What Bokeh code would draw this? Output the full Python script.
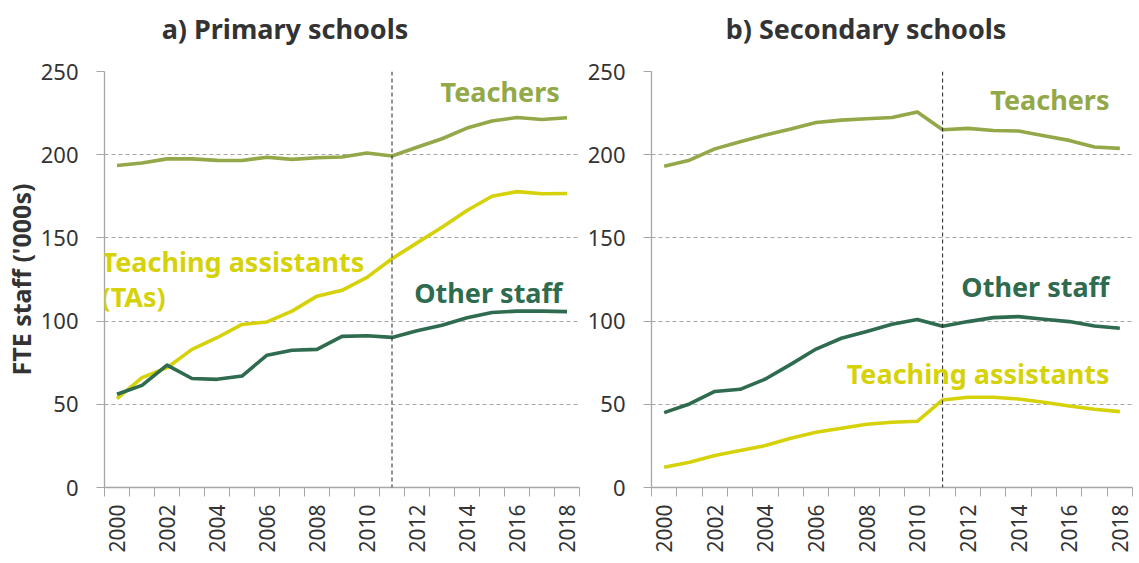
import math
from bokeh.plotting import figure
from bokeh.layouts import row, column
from bokeh.models import Label, FixedTicker, Range1d, ColumnDataSource, Span
from bokeh.embed import file_html
from bokeh.resources import INLINE

# ---------------- data ----------------
years = list(range(2000, 2019))
primary_teachers = [193.5, 195.0, 197.5, 197.5, 196.6, 196.5, 198.5, 197.2, 198.2, 198.6,
                    201.0, 199.2, 204.5, 209.6, 216.0, 220.2, 222.4, 221.2, 222.2]
primary_tas = [53.4, 66.0, 72.0, 83.0, 90.0, 98.0, 99.5, 106.0, 115.0, 118.5,
               126.3, 137.5, 147.0, 156.4, 166.5, 175.0, 177.8, 176.5, 176.7]
primary_other = [56.0, 61.4, 73.5, 65.5, 65.0, 67.0, 79.5, 82.5, 83.0, 90.8,
                 91.2, 90.2, 94.2, 97.5, 102.0, 105.2, 106.0, 106.0, 105.7]
secondary_teachers = [193.1, 196.7, 203.5, 207.8, 211.8, 215.4, 219.4, 220.8, 221.6, 222.4,
                      225.6, 215.0, 215.8, 214.5, 214.2, 211.4, 208.6, 204.6, 203.8]
secondary_tas = [12.2, 15.2, 19.2, 22.2, 25.2, 29.6, 33.2, 35.6, 38.0, 39.2,
                 39.8, 52.6, 54.2, 54.2, 53.2, 51.2, 49.0, 47.0, 45.6]
secondary_other = [45.0, 50.2, 57.7, 59.0, 65.2, 74.0, 83.2, 89.7, 93.7, 98.1,
                   100.9, 96.9, 99.7, 102.1, 102.7, 101.1, 99.7, 97.1, 95.7]
y_ticks = [0, 50, 100, 150, 200, 250]
x_label_years = years[::2]
break_year = 2011
titles = ["a) Primary schools", "b) Secondary schools"]
y_axis_title = "FTE staff ('000s)"

# ---------------- styles ----------------
C_TEACH = "#93A848"
C_TA = "#D6D20A"
C_OTHER = "#2E6B4F"
C_AXIS = "#A6A6A6"
C_TEXT = "#333333"
FONT = "Noto Sans"
BIG = "27px"
TITLE_H = 50
MAIN_H = 505


def title_fig(width, text, cx):
    t = figure(width=width, height=TITLE_H, x_range=Range1d(0, width),
               y_range=Range1d(0, TITLE_H), x_axis_type=None, y_axis_type=None,
               output_backend="svg", toolbar_location=None,
               min_border_left=0, min_border_right=0, min_border_top=0, min_border_bottom=0)
    t.outline_line_color = None
    t.grid.visible = False
    t.add_layout(Label(x=cx, y=22, text=text, text_font=FONT, text_font_style="bold",
                       text_font_size=BIG, text_color=C_TEXT, text_align="center",
                       text_baseline="alphabetic"))
    return t


def make_panel(width, border_left, border_right, ylabel, series):
    p = figure(width=width, height=MAIN_H,
               x_range=Range1d(years[0] - 0.5, years[-1] + 0.5),
               y_range=Range1d(y_ticks[0], y_ticks[-1]),
               output_backend="svg", toolbar_location=None,
               min_border_left=border_left, min_border_right=border_right,
               min_border_top=21, min_border_bottom=40)
    p.outline_line_color = None
    p.background_fill_color = "white"
    p.border_fill_color = "white"

    # x axis
    xa = p.xaxis[0]
    xa.axis_label = None
    xa.ticker = FixedTicker(ticks=x_label_years,
                            minor_ticks=[y - 0.5 for y in years] + [years[-1] + 0.5])
    xa.major_tick_line_color = None
    xa.major_tick_out = 0
    xa.major_tick_in = 0
    xa.minor_tick_out = 9
    xa.minor_tick_in = 0
    xa.minor_tick_line_color = C_AXIS
    xa.minor_tick_line_width = 1
    xa.axis_line_color = C_AXIS
    xa.axis_line_width = 1.3
    xa.major_label_orientation = math.pi / 2
    xa.major_label_text_font = FONT
    xa.major_label_text_font_size = "21px"
    xa.major_label_text_color = C_TEXT
    xa.major_label_standoff = 8

    # y axis
    ya = p.yaxis[0]
    ya.ticker = FixedTicker(ticks=y_ticks)
    ya.major_tick_out = 8
    ya.major_tick_in = 0
    ya.major_tick_line_color = C_AXIS
    ya.minor_tick_line_color = None
    ya.axis_line_color = C_AXIS
    ya.axis_line_width = 1.3
    ya.major_label_text_font = FONT
    ya.major_label_text_font_size = "22px"
    ya.major_label_text_color = C_TEXT
    ya.major_label_standoff = 18
    if ylabel:
        ya.axis_label = ylabel
        ya.axis_label_text_font = FONT
        ya.axis_label_text_font_style = "bold"
        ya.axis_label_text_font_size = "25px"
        ya.axis_label_text_color = C_TEXT
        ya.axis_label_standoff = 0
    else:
        ya.axis_label = None

    p.xgrid.grid_line_color = None
    p.ygrid.ticker = FixedTicker(ticks=y_ticks)
    p.ygrid.grid_line_color = C_AXIS
    p.ygrid.grid_line_dash = "4 3"
    p.ygrid.grid_line_width = 1

    p.add_layout(Span(location=break_year, dimension="height", line_color="#222222",
                      line_dash="4 3", line_width=1))

    src = ColumnDataSource(dict(year=years, teach=series[0], ta=series[1], other=series[2]))
    p.line("year", "teach", source=src, line_color=C_TEACH, line_width=3.6, line_join="round")
    p.line("year", "ta", source=src, line_color=C_TA, line_width=3.6, line_join="round")
    p.line("year", "other", source=src, line_color=C_OTHER, line_width=3.6, line_join="round")
    return p


def lab(p, x, y, text, color, align):
    p.add_layout(Label(x=x, y=y, text=text, text_font=FONT, text_font_style="bold",
                       text_font_size=BIG, text_color=color, text_align=align,
                       text_baseline="middle"))


W1, W2 = 581, 554

p1 = make_panel(W1, 99, 2, y_axis_title,
                (primary_teachers, primary_tas, primary_other))
lab(p1, 2017.71, 238.0, "Teachers", C_TEACH, "right")
lab(p1, 1999.38, 135.7, "Teaching assistants", C_TA, "left")
lab(p1, 1999.38, 114.6, "(TAs)", C_TA, "left")
lab(p1, 2011.89, 117.0, "Other staff", C_OTHER, "left")

p2 = make_panel(W2, 70, 3, None,
                (secondary_teachers, secondary_tas, secondary_other))
lab(p2, 2017.59, 233.3, "Teachers", C_TEACH, "right")
lab(p2, 2017.59, 120.6, "Other staff", C_OTHER, "right")
lab(p2, 2017.59, 68.3, "Teaching assistants", C_TA, "right")

t1 = title_fig(W1, titles[0], 284.5)
t2 = title_fig(W2, titles[1], 284.5)

layout = column(row(t1, t2), row(p1, p2))
open("out.html", "w").write(file_html(layout, INLINE))
